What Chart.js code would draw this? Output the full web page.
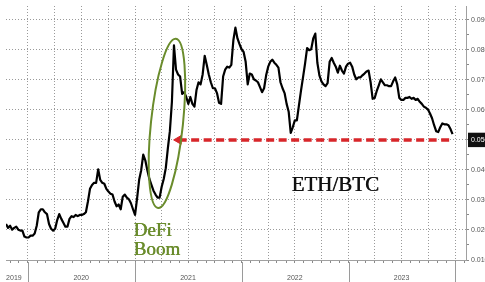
<!DOCTYPE html>
<html>
<head>
<meta charset="utf-8">
<script src="https://cdn.jsdelivr.net/npm/chart.js@4.4.0/dist/chart.umd.min.js"></script>
<style>
    html, body { margin: 0; padding: 0; background: #fff; }
</style>
</head>
<body>
<canvas id="ethChart" width="485" height="282"></canvas>
<script>
// weekly ETH/BTC, first value on startDate
const startDate = '2019-10-18';
const endDate = '2024-02-06';
const ethBtc = [
    0.0220, 0.0207, 0.0214, 0.0201, 0.0207, 0.0211, 0.0201, 0.0198, 0.0198, 0.0178,
    0.0175, 0.0175, 0.0181, 0.0181, 0.0188, 0.0214, 0.0259, 0.0269, 0.0269, 0.0259,
    0.0253, 0.0220, 0.0204, 0.0198, 0.0204, 0.0233, 0.0253, 0.0237, 0.0224, 0.0211,
    0.0211, 0.0237, 0.0246, 0.0243, 0.0250, 0.0246, 0.0250, 0.0250, 0.0253, 0.0259,
    0.0295, 0.0337, 0.0350, 0.0357, 0.0357, 0.0402, 0.0367, 0.0357, 0.0354, 0.0337,
    0.0328, 0.0321, 0.0318, 0.0295, 0.0279, 0.0285, 0.0269, 0.0311, 0.0318, 0.0308,
    0.0302, 0.0289, 0.0269, 0.0250, 0.0305, 0.0367, 0.0399, 0.0451, 0.0432, 0.0399,
    0.0370, 0.0350, 0.0331, 0.0318, 0.0308, 0.0308, 0.0344, 0.0370, 0.0406, 0.0471,
    0.0529, 0.0627, 0.0815, 0.0734, 0.0718, 0.0711, 0.0653, 0.0659, 0.0643, 0.0620,
    0.0643, 0.0620, 0.0611, 0.0666, 0.0692, 0.0685, 0.0718, 0.0780, 0.0750, 0.0718,
    0.0692, 0.0672, 0.0672, 0.0656, 0.0624, 0.0620, 0.0711, 0.0734, 0.0744, 0.0741,
    0.0750, 0.0832, 0.0874, 0.0838, 0.0819, 0.0802, 0.0793, 0.0760, 0.0685, 0.0721,
    0.0718, 0.0702, 0.0698, 0.0692, 0.0676, 0.0659, 0.0672, 0.0715, 0.0744, 0.0760,
    0.0767, 0.0757, 0.0750, 0.0741, 0.0692, 0.0672, 0.0656, 0.0620, 0.0594, 0.0523,
    0.0542, 0.0565, 0.0565, 0.0614, 0.0663, 0.0708, 0.0754, 0.0806, 0.0799, 0.0802,
    0.0838, 0.0854, 0.0757, 0.0715, 0.0695, 0.0685, 0.0679, 0.0689, 0.0760, 0.0773,
    0.0757, 0.0744, 0.0724, 0.0747, 0.0731, 0.0721, 0.0744, 0.0754, 0.0757, 0.0744,
    0.0718, 0.0702, 0.0708, 0.0708, 0.0715, 0.0721, 0.0728, 0.0731, 0.0692, 0.0637,
    0.0640, 0.0663, 0.0682, 0.0702, 0.0692, 0.0682, 0.0682, 0.0679, 0.0679, 0.0695,
    0.0708, 0.0685, 0.0640, 0.0633, 0.0633, 0.0640, 0.0640, 0.0643, 0.0637, 0.0640,
    0.0633, 0.0637, 0.0627, 0.0620, 0.0611, 0.0607, 0.0601, 0.0588, 0.0572, 0.0549,
    0.0529, 0.0526, 0.0542, 0.0555, 0.0552, 0.0552, 0.0549, 0.0536, 0.0519
];

// axis labels
const yearLabels = ['2019', '2020', '2021', '2022', '2023'];
const yearLabelDates = ['2019-11-14', '2020-07-01', '2021-07-01', '2022-07-01', '2023-07-01'];
const yearStarts = ['2020-01-01', '2021-01-01', '2022-01-01', '2023-01-01', '2024-01-01'];
const yTicks = [0.010, 0.020, 0.030, 0.040, 0.050, 0.060, 0.070, 0.080, 0.090];
const lastLevel = 0.050;

// annotations
const arrowDates = ['2021-05-30', '2023-12-24'];
const arrowValues = [0.0500, 0.0500];
const ovalDate = '2021-04-20';
const ovalValue = 0.0555;
const defiLines = ['DeFi', 'Boom'];
const defiDate = '2020-12-27';
const defiValues = [0.0181, 0.0116];
const pairLabel = 'ETH/BTC';
const pairDate = '2022-11-16';
const pairValue = 0.0331;

const DAY = 86400000;
const t0 = Date.parse(startDate);
const dayOf = function(s) { return (Date.parse(s) - t0) / DAY; };
const xMax = dayOf(endDate);

// monthly tick marks, quarterly grid lines
const monthDays = [];
const quarterDays = [];
for (let y = 2019; y <= 2024; y++) {
    for (let m = 0; m < 12; m++) {
        const d = (Date.UTC(y, m, 1) - t0) / DAY;
        if (d <= 0 || d > xMax) continue;
        monthDays.push(d);
        if (m % 3 === 0) quarterDays.push(d);
    }
}
const labelDays = yearLabelDates.map(dayOf);
const xTickDays = monthDays.concat(labelDays.filter(d => monthDays.indexOf(d) < 0)).sort((a, b) => a - b);

const yTickValues = [];
for (let k = 10; k <= 90; k += 5) yTickValues.push(k / 1000);
const isMajor = v => yTicks.some(t => Math.abs(t - v) < 1e-6);
const isLast = v => Math.abs(v - lastLevel) < 1e-6;
const isQuarter = v => quarterDays.some(d => Math.abs(d - v) < 0.01);
const isMonth = v => monthDays.some(d => Math.abs(d - v) < 0.01);

const green = '#6a8c2c';
const gridGray = '#9a9a9a';
const none = 'rgba(0,0,0,0)';

const annotations = {
    id: 'annotations',
    afterDraw(chart) {
        const ctx = chart.ctx;
        const xs = chart.scales.x;
        const ys = chart.scales.y;
        const area = chart.chartArea;
        ctx.save();
        // year separators under the axis
        ctx.strokeStyle = '#9a9a9a';
        ctx.lineWidth = 1;
        yearStarts.forEach(function(s) {
            const px = Math.round(xs.getPixelForValue(dayOf(s))) + 0.5;
            ctx.beginPath();
            ctx.moveTo(px, area.bottom + 2);
            ctx.lineTo(px, chart.height);
            ctx.stroke();
        });
        // green oval round the spike
        ctx.strokeStyle = green;
        ctx.lineWidth = 2;
        ctx.beginPath();
        ctx.ellipse(xs.getPixelForValue(dayOf(ovalDate)), ys.getPixelForValue(ovalValue), 16, 85, 0.105, 0, Math.PI * 2);
        ctx.stroke();
        // texts
        ctx.textBaseline = 'alphabetic';
        ctx.fillStyle = green;
        ctx.textAlign = 'left';
        ctx.font = '19px "Liberation Serif", "Times New Roman", serif';
        defiLines.forEach(function(line, i) {
            const px = xs.getPixelForValue(dayOf(defiDate));
            const py = ys.getPixelForValue(defiValues[i]);
            ctx.fillText(line, px, py);
            ctx.fillText(line, px + 0.5, py);
        });
        ctx.fillStyle = '#111';
        ctx.textAlign = 'center';
        ctx.font = '21px "Liberation Serif", "Times New Roman", serif';
        const ex = xs.getPixelForValue(dayOf(pairDate));
        const ey = ys.getPixelForValue(pairValue);
        ctx.fillText(pairLabel, ex, ey);
        ctx.fillText(pairLabel, ex + 0.5, ey);
        ctx.restore();
    }
};

const ctx = document.getElementById('ethChart').getContext('2d');
const ethChart = new Chart(ctx, {
    type: 'line',
    data: {
        datasets: [{
            data: arrowDates.map((d, i) => ({ x: dayOf(d), y: arrowValues[i] })),
            borderColor: '#d8262a',
            backgroundColor: '#d8262a',
            borderWidth: 3.5,
            borderDash: [8, 4.5],
            pointRadius: [5, 0],
            pointStyle: 'triangle',
            rotation: -90,
            pointBorderWidth: 1,
            order: 0
        }, {
            data: ethBtc.map((v, i) => ({ x: i * 7, y: v })),
            borderColor: '#000',
            borderWidth: 2.2,
            borderJoinStyle: 'round',
            pointRadius: 0,
            tension: 0,
            order: 1
        }]
    },
    options: {
        responsive: false,
        animation: false,
        devicePixelRatio: 1,
        layout: { padding: 0 },
        plugins: {
            legend: { display: false },
            tooltip: { enabled: false }
        },
        scales: {
            x: {
                type: 'linear',
                min: 0,
                max: xMax,
                afterBuildTicks: function(scale) {
                    scale.ticks = xTickDays.map(d => ({ value: d }));
                },
                afterFit: function(scale) {
                    scale.height = 22;
                    scale.paddingLeft = 0;
                    scale.paddingRight = 0;
                },
                grid: {
                    color: c => (c.tick && isQuarter(c.tick.value)) ? gridGray : none,
                    lineWidth: 1,
                    tickLength: 3,
                    tickColor: c => (c.tick && isMonth(c.tick.value)) ? '#8a8a8a' : none
                },
                border: { color: '#a0a0a0', dash: [1, 2] },
                ticks: {
                    autoSkip: false,
                    maxRotation: 0,
                    padding: 11,
                    color: '#555',
                    font: { family: '"Liberation Sans", Arial, sans-serif', size: 7 },
                    callback: function(v) {
                        const k = labelDays.findIndex(d => Math.abs(d - v) < 0.01);
                        return k >= 0 ? yearLabels[k] : '';
                    }
                }
            },
            y: {
                position: 'right',
                min: 0.01,
                max: 0.0946,
                afterBuildTicks: function(scale) {
                    scale.ticks = yTickValues.map(v => ({ value: v }));
                },
                afterFit: function(scale) {
                    scale.width = 19;
                    scale.paddingTop = 0;
                    scale.paddingBottom = 0;
                },
                grid: {
                    color: c => (c.tick && isMajor(c.tick.value)) ? gridGray : none,
                    lineWidth: 1,
                    tickLength: 3,
                    tickColor: '#8a8a8a'
                },
                border: { color: '#a0a0a0', dash: [1, 2] },
                ticks: {
                    padding: 2,
                    font: { family: '"Liberation Sans", Arial, sans-serif', size: 7 },
                    color: c => isLast(c.tick.value) ? '#fff' : '#555',
                    showLabelBackdrop: true,
                    backdropColor: c => isLast(c.tick.value) ? '#111' : none,
                    backdropPadding: { x: 3, y: 3 },
                    callback: v => isMajor(v) ? v.toFixed(3) : ''
                }
            }
        }
    },
    plugins: [annotations]
});
</script>
</body>
</html>
